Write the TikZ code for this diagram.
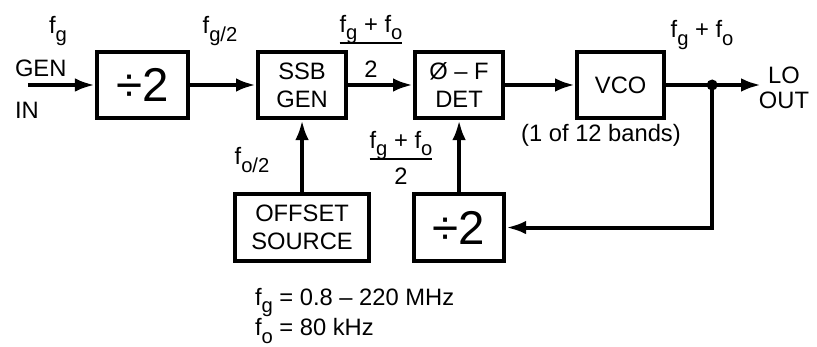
\documentclass[tikz,border=0pt]{standalone}
\usepackage{fontspec}
\setmainfont{Liberation Sans}
\usetikzlibrary{arrows.meta, positioning}

\newcommand{\fsub}[1]{f\raisebox{-0.6ex}{\fontsize{11.5}{11.5}\selectfont #1}}
\newcommand{\frc}[3][14pt]{%
  \setlength{\arrayrulewidth}{1pt}%
  \begin{tabular}{@{}c@{}}#2\\[-1pt]\hline\rule{0pt}{#1}#3\end{tabular}}

\begin{document}
\begin{tikzpicture}[>={Latex[length=0.4cm, width=0.27cm]}, line width=2.3pt,
    block/.style={draw, line width=2.3pt, minimum height=1.32cm,
                  inner sep=0pt, align=center,
                  font=\fontsize{13.5}{16}\selectfont},
    bigtxt/.style={font=\fontsize{27}{27}\selectfont},
    lbl/.style={inner sep=0pt, font=\fontsize{13.5}{16}\selectfont}]
  \useasboundingbox (0,0) rectangle (16.34,-6.94);

  \node[block, bigtxt, minimum width=1.82cm] (div1) at (2.85,-1.7) {÷2};
  \node[block, minimum width=1.76cm, right=1.32cm of div1] (ssb)
    {SSB\\GEN};
  \node[block, minimum width=1.76cm, right=1.3cm of ssb] (det)
    {Ø – F\\DET};
  \node[block, minimum width=1.74cm, right=1.4cm of det] (vco) {VCO};
  \node[block, minimum width=2.68cm, minimum height=1.34cm,
        below=1.44cm of ssb] (offset) {OFFSET\\SOURCE};
  \node[block, bigtxt, minimum width=1.8cm, minimum height=1.34cm,
        below=1.44cm of det] (div2) {÷2};

  \coordinate[left=1.34cm of div1.west] (gin);
  \coordinate[right=0.92cm of vco.east] (jn);
  \coordinate[right=0.98cm of jn] (lo);

  \draw[->] (gin) -- (div1);
  \draw[->] (div1) -- (ssb);
  \draw[->] (ssb) -- (det);
  \draw[->] (det) -- (vco);
  \draw[->] (vco) -- (lo);
  \draw[->] (jn) |- (div2);
  \draw[->] (offset) -- (ssb);
  \draw[->] (div2) -- (det);
  \fill (jn) circle (0.11cm);

  % signal labels
  \node[lbl, align=left, anchor=west, font=\fontsize{13.5}{24}\selectfont]
    (genin) at (0.26,-1.78) {GEN\\IN};
  \node[lbl] (fg) at (1.16,-0.62) {\fsub{g}};
  \node[lbl] (fg2) at (4.4,-0.62) {\fsub{g/2}};
  \node[lbl] (sum1) at (7.42,-0.98) {\frc[19pt]{\fsub{g} + \fsub{o}}{2}};
  \node[lbl] (sum2) at (8.02,-3.22) {\frc{\fsub{g} + \fsub{o}}{2}};
  \node[lbl] (fo2) at (5.04,-3.2) {\fsub{o/2}};
  \node[lbl] (fout) at (14.04,-0.7) {\fsub{g} + \fsub{o}};
  \node[lbl, align=center, font=\fontsize{13.5}{14.5}\selectfont]
    (loout) at (15.68,-1.76) {LO\\OUT};
  \node[lbl] (bands) at (12.02,-2.7) {(1 of 12 bands)};

  \node[lbl, align=left, anchor=north west, font=\fontsize{13.5}{13.5}\selectfont]
    (ranges) at (5.06,-5.72) {\fsub{g} = 0.8 – 220 MHz\\\fsub{o} = 80 kHz};
\end{tikzpicture}
\end{document}
